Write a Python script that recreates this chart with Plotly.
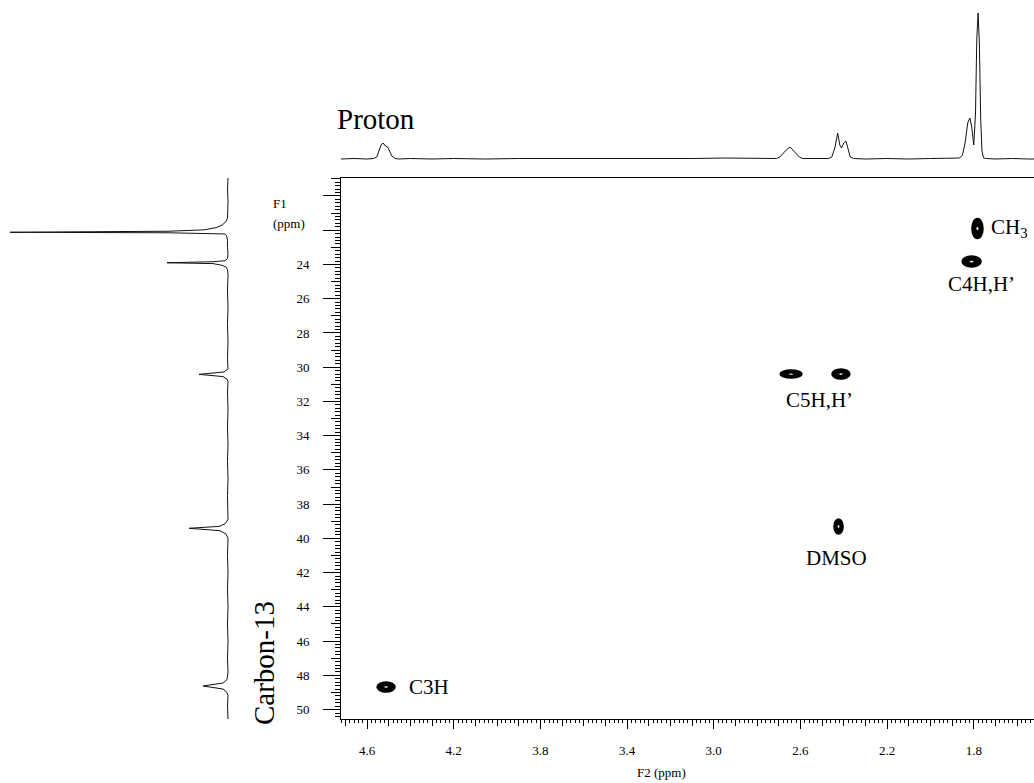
import plotly.graph_objects as go

W, H = 1034, 783

# ---------------- data ----------------
x_ticks = [4.6, 4.2, 3.8, 3.4, 3.0, 2.6, 2.2, 1.8]
x_tick_labels = ["4.6", "4.2", "3.8", "3.4", "3.0", "2.6", "2.2", "1.8"]
y_ticks = [24, 26, 28, 30, 32, 34, 36, 38, 40, 42, 44, 46, 48, 50]
y_tick_labels = ["24", "26", "28", "30", "32", "34", "36", "38",
                 "40", "42", "44", "46", "48", "50"]
y_unlabeled_ticks = [20, 22]

# 1H projection (F2 axis, ppm) – intensity in arbitrary units
proton_ppm = [4.72, 4.66, 4.60, 4.57, 4.555, 4.545, 4.535, 4.526, 4.515, 4.505,
              4.495, 4.485, 4.47, 4.455, 4.40, 4.30, 4.20, 4.05, 3.90, 3.70,
              3.50, 3.30, 3.10, 2.95, 2.85, 2.75, 2.71, 2.695, 2.68, 2.665,
              2.648, 2.635, 2.62, 2.605, 2.59, 2.56, 2.50, 2.47, 2.455, 2.44,
              2.428, 2.418, 2.41, 2.40, 2.39, 2.38, 2.37, 2.355, 2.30, 2.20,
              2.10, 2.00, 1.92, 1.88, 1.865, 1.852, 1.84, 1.828, 1.818, 1.81,
              1.80, 1.792, 1.786, 1.780, 1.774, 1.768, 1.762, 1.755, 1.74, 1.70,
              1.62, 1.55, 1.522]
proton_int = [0, 0.5, 0, 0.5, 2, 8, 14, 16, 13, 12,
              8, 3, 0.5, 0, 0.5, 0, 0.5, 0, 0.5, 0.5,
              0, 0.5, 0.5, 1, 0.5, 0.5, 0.5, 2, 6, 9,
              12, 9, 5, 2, 0.5, 0.5, 0, 0.5, 2, 12,
              26, 14, 11, 16, 18, 9, 2, 0.5, 0, 0.5,
              0, 0.5, 1, 0.5, 1, 4, 16, 36, 41, 33,
              14, 45, 120, 146, 115, 40, 8, 1, 0.5, 0,
              0.5, 0, 0]

# 13C projection (F1 axis, ppm) – intensity in arbitrary units
carbon_ppm = [18.95, 19.6, 20.3, 20.9, 21.3, 21.5, 21.7, 21.85, 21.98, 22.06,
              22.12, 22.15, 22.18, 22.22, 22.3, 22.6, 23.0, 23.4, 23.65, 23.78,
              23.84, 23.9, 23.95, 24.05, 24.15, 24.3, 24.6, 25.5, 26.5, 27.5,
              28.5, 29.5, 30.1, 30.28, 30.42, 30.55, 30.7, 30.85, 31.5, 32.5,
              33.5, 34.5, 35.5, 36.5, 37.5, 38.5, 38.9, 39.15, 39.3, 39.41,
              39.55, 39.75, 40.0, 41.0, 42.0, 43.0, 44.0, 45.0, 46.0, 47.0,
              47.8, 48.25, 48.45, 48.62, 48.8, 49.0, 49.2, 49.8, 50.55]
carbon_int = [0, 0.5, 0, 0.5, 0.5, 2, 6, 12, 24, 60,
              218, 60, 8, 3, 1.5, 0.5, 0.5, 0, 0.5, 3,
              15, 61, 15, 6, 2, 0.5, 0, 0.5, 0, 0.5,
              0, 0.5, 0, 4, 29, 5, 1, 0, 0.5, 0,
              0.5, 0, 0.5, 0, 0.5, 0, 0, 3, 9, 39,
              8, 2, 0, 0.5, 0, 0.5, 0, 0.5, 0, 0.5,
              0, 1, 5, 25, 5, 1, 0, 0.5, 0]

# HSQC cross peaks (F2 = 1H ppm, F1 = 13C ppm)
cross_f2 = [4.512, 2.643, 2.413, 2.424, 1.810, 1.783]
cross_f1 = [48.68, 30.40, 30.40, 39.31, 23.83, 21.90]

# assignment labels (anchored at the cross peaks they name)
label_text = ["C3H", "C5H,H’", "DMSO", "C4H,H’", "CH<sub>3</sub>"]
label_f2 = [4.512, 2.528, 2.424, 1.810, 1.783]
label_f1 = [48.68, 30.40, 39.31, 23.83, 21.90]

# ---------------- style ----------------
X_RANGE = [4.72, 1.522]
Y_RANGE = [50.55, 18.95]
SERIF = "Liberation Serif, Times New Roman, serif"
contour_w = [0.083, 0.10, 0.083, 0.042, 0.088, 0.051]
contour_h = [0.58, 0.47, 0.58, 0.88, 0.64, 1.17]
label_style = [(21, 0, "left"), (3, -26, "center"), (-2, -31, "center"),
               (10, -22, "center"), (12, 1, "left")]

fig = go.Figure()

fig.add_trace(go.Scatter(x=proton_ppm, y=proton_int, mode="lines",
                         line=dict(color="#111", width=1), xaxis="x", yaxis="y2",
                         hoverinfo="skip", showlegend=False))
fig.add_trace(go.Scatter(x=carbon_int, y=carbon_ppm, mode="lines",
                         line=dict(color="#111", width=1), xaxis="x3", yaxis="y",
                         hoverinfo="skip", showlegend=False))
# empty traces so that the extra tick-ruler axes are rendered
fig.add_trace(go.Scatter(x=[None], y=[None], xaxis="x4", yaxis="y",
                         hoverinfo="skip", showlegend=False))
fig.add_trace(go.Scatter(x=[None], y=[None], xaxis="x", yaxis="y3",
                         hoverinfo="skip", showlegend=False))

shapes = []
for cx, cy, w, h in zip(cross_f2, cross_f1, contour_w, contour_h):
    shapes.append(dict(type="circle", xref="x", yref="y",
                       x0=cx + w / 2, x1=cx - w / 2, y0=cy - h / 2, y1=cy + h / 2,
                       fillcolor="black", line=dict(color="black", width=1.5),
                       layer="above"))
    shapes.append(dict(type="circle", xref="x", yref="y",
                       x0=cx + w * 0.1, x1=cx - w * 0.1, y0=cy - h * 0.08, y1=cy + h * 0.08,
                       fillcolor="white", line=dict(width=0), layer="above"))

annotations = []
for t, fx, fy, (dx, dy, anc) in zip(label_text, label_f2, label_f1, label_style):
    annotations.append(dict(text=t, x=fx, y=fy, xref="x", yref="y", showarrow=False,
                            xanchor=anc, yanchor="middle", xshift=dx, yshift=dy,
                            font=dict(family=SERIF, size=21, color="black")))

annotations += [
    dict(text="Proton", x=335 / W, y=1 - 119 / H, xref="paper", yref="paper",
         xanchor="left", yanchor="middle", showarrow=False,
         font=dict(family=SERIF, size=29, color="black")),
    dict(text="Carbon-13", x=264 / W, y=1 - 663 / H, xref="paper", yref="paper",
         xanchor="center", yanchor="middle", textangle=-90, showarrow=False,
         font=dict(family=SERIF, size=29, color="black")),
    dict(text="F1", x=271 / W, y=1 - 203 / H, xref="paper", yref="paper",
         xanchor="left", yanchor="middle", showarrow=False,
         font=dict(family=SERIF, size=13, color="black")),
    dict(text="(ppm)", x=271 / W, y=1 - 223 / H, xref="paper", yref="paper",
         xanchor="left", yanchor="middle", showarrow=False,
         font=dict(family=SERIF, size=13, color="black")),
    dict(text="F2 (ppm)", x=661 / W, y=1 - 772 / H, xref="paper", yref="paper",
         xanchor="center", yanchor="middle", showarrow=False,
         font=dict(family=SERIF, size=13, color="black")),
]

tickfont = dict(family=SERIF, size=13, color="black")
fig.update_layout(
    width=W, height=H, margin=dict(l=0, r=0, t=0, b=0),
    paper_bgcolor="white", plot_bgcolor="white", showlegend=False,
    xaxis=dict(domain=[341 / W, 1], range=X_RANGE, anchor="y",
               showline=True, linecolor="black", linewidth=1, mirror=True,
               ticks="outside", ticklen=9, tickwidth=1, tickcolor="black",
               tickmode="array", tickvals=x_ticks, ticktext=x_tick_labels,
               tickfont=tickfont, ticklabelstandoff=10,
               minor=dict(tickmode="linear", tick0=0, dtick=0.02, ticklen=3,
                          ticks="outside", tickcolor="black", tickwidth=1, showgrid=False),
               showgrid=False, zeroline=False),
    xaxis4=dict(overlaying="x", anchor="y", side="bottom", range=X_RANGE,
                tickmode="linear", tick0=0, dtick=0.1, ticks="outside", ticklen=6,
                tickwidth=1, tickcolor="black", showticklabels=False,
                showline=False, showgrid=False, zeroline=False),
    yaxis=dict(domain=[1 - 719 / H, 1 - 178 / H], range=Y_RANGE, anchor="x",
               showline=True, linecolor="black", linewidth=1,
               ticks="outside", ticklen=17, tickwidth=1, tickcolor="black",
               tickmode="array", tickvals=y_ticks, ticktext=y_tick_labels,
               tickfont=tickfont, ticklabelstandoff=11,
               minor=dict(tickmode="linear", tick0=0, dtick=0.2, ticklen=5,
                          ticks="outside", tickcolor="black", tickwidth=1, showgrid=False),
               showgrid=False, zeroline=False),
    yaxis3=dict(overlaying="y", anchor="x", side="left", range=Y_RANGE,
                tickmode="array", tickvals=y_unlabeled_ticks, ticks="outside", ticklen=17,
                tickwidth=1, tickcolor="black", showticklabels=False,
                minor=dict(tickmode="linear", tick0=0, dtick=1, ticklen=9,
                           ticks="outside", tickcolor="black", tickwidth=1, showgrid=False),
                showline=False, showgrid=False, zeroline=False),
    yaxis2=dict(domain=[1 - 172 / H, 1 - 2 / H], range=[-13, 157], anchor="x",
                visible=False),
    xaxis3=dict(domain=[0, 240 / W], range=[228, -12], anchor="y", visible=False),
    shapes=shapes, annotations=annotations,
)

fig.write_html("out.html")
